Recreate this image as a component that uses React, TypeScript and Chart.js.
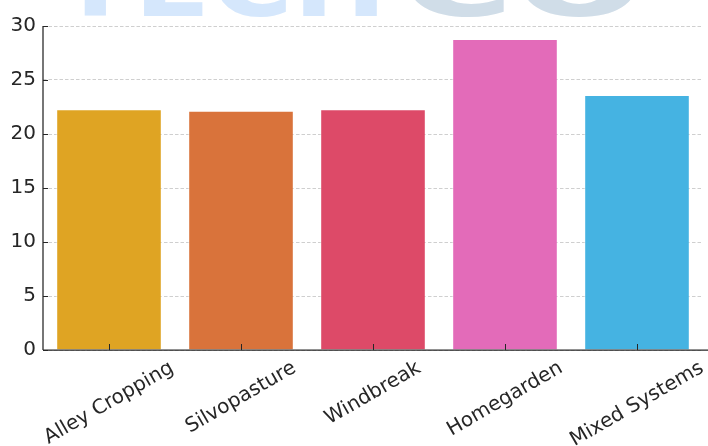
import React, { useEffect, useRef } from "react";
import { Chart, registerables } from "chart.js";

Chart.register(...registerables);

const categories = ["Alley Cropping", "Silvopasture", "Windbreak", "Homegarden", "Mixed Systems"];
const values = [22.3, 22.15, 22.3, 28.8, 23.6];
const barColors = ["#DFA423", "#D9733B", "#DD4A68", "#E36BB9", "#45B3E2"];
const yMin = 0;
const yMax = 30;
const yStep = 5;

const FONT = "DejaVu Sans";
const TEXT_COLOR = "#262626";

const overlayPlugin = {
  id: "overlay",
  beforeDraw(chart: any) {
    const ctx = chart.ctx;
    ctx.save();
    ctx.textBaseline = "alphabetic";
    ctx.textAlign = "left";
    ctx.font = `bold 96px ${FONT}`;
    ctx.fillStyle = "#d5e7fc";
    const w1 = ctx.measureText("TECH").width;
    ctx.save();
    ctx.translate(57, 16);
    ctx.scale(330 / w1, 1);
    ctx.fillText("TECH", 0, 0);
    ctx.restore();
    ctx.fillStyle = "#d0dde8";
    const w2 = ctx.measureText("CO").width;
    ctx.save();
    ctx.translate(400, 16);
    ctx.scale(245 / w2, 1);
    ctx.fillText("CO", 0, 0);
    ctx.restore();
    ctx.restore();
  },
  afterDatasetsDraw(chart: any) {
    const ctx = chart.ctx;
    const area = chart.chartArea;
    const xs = chart.scales.x;
    const ys = chart.scales.y;
    ctx.save();
    ctx.strokeStyle = TEXT_COLOR;
    ctx.lineWidth = 1.25;
    ctx.setLineDash([]);
    // spines
    ctx.beginPath();
    ctx.moveTo(area.left, area.top);
    ctx.lineTo(area.left, area.bottom);
    ctx.moveTo(area.left, area.bottom);
    ctx.lineTo(chart.width, area.bottom);
    ctx.stroke();
    // inward ticks
    ctx.lineWidth = 1;
    ctx.beginPath();
    ys.ticks.forEach((t: any) => {
      const y = Math.round(ys.getPixelForValue(t.value)) + 0.5;
      ctx.moveTo(area.left, y);
      ctx.lineTo(area.left + 5, y);
    });
    categories.forEach((_, i) => {
      const x = Math.round(xs.getPixelForValue(i)) + 0.5;
      ctx.moveTo(x, area.bottom);
      ctx.lineTo(x, area.bottom - 6);
    });
    ctx.stroke();
    // rotated x labels, centered under the tick
    ctx.font = `20px ${FONT}`;
    ctx.fillStyle = TEXT_COLOR;
    ctx.textAlign = "center";
    ctx.textBaseline = "middle";
    const ang = (30 * Math.PI) / 180;
    const h = 20;
    categories.forEach((label, i) => {
      const x = xs.getPixelForValue(i);
      const w = ctx.measureText(label).width;
      const bboxH = w * Math.sin(ang) + h * Math.cos(ang);
      const cy = area.bottom + 8 + bboxH / 2;
      ctx.save();
      ctx.translate(x, cy);
      ctx.rotate(-ang);
      ctx.fillText(label, 0, 0);
      ctx.restore();
    });
    ctx.restore();
  },
};

export default function App() {
  const canvasRef = useRef<HTMLCanvasElement>(null);

  useEffect(() => {
    document.body.style.margin = "0";
    const canvas = canvasRef.current;
    if (!canvas) return;
    const chart = new Chart(canvas, {
      type: "bar",
      data: {
        labels: categories,
        datasets: [
          {
            data: values,
            backgroundColor: barColors,
            borderColor: "rgba(255,255,255,0.55)",
            borderWidth: 1,
            categoryPercentage: 0.8,
            barPercentage: 1.0,
          },
        ],
      },
      options: {
        responsive: false,
        animation: false,
        devicePixelRatio: 1,
        layout: { padding: { top: 26, right: 5, left: 0, bottom: 0 } },
        plugins: {
          legend: { display: false },
          tooltip: { enabled: false },
          title: { display: false },
        },
        scales: {
          x: {
            type: "category",
            offset: true,
            grid: { display: false, drawTicks: false },
            border: { display: false },
            ticks: { display: false },
            afterFit(scale: any) {
              scale.height = 96;
            },
          },
          y: {
            min: yMin,
            max: yMax,
            ticks: {
              stepSize: yStep,
              padding: 7,
              color: TEXT_COLOR,
              font: { family: FONT, size: 20 },
            },
            grid: {
              color: "#cfcfcf",
              lineWidth: 1,
              drawTicks: false,
              tickLength: 0,
            },
            border: { display: false, dash: [3.5, 2] },
            afterFit(scale: any) {
              scale.width = 43;
            },
          },
        },
      },
      plugins: [overlayPlugin],
    });
    return () => chart.destroy();
  }, []);

  return (
    <div style={{ position: "absolute", left: 0, top: 0, width: 708, height: 446 }}>
      <canvas ref={canvasRef} width={708} height={446} />
    </div>
  );
}
